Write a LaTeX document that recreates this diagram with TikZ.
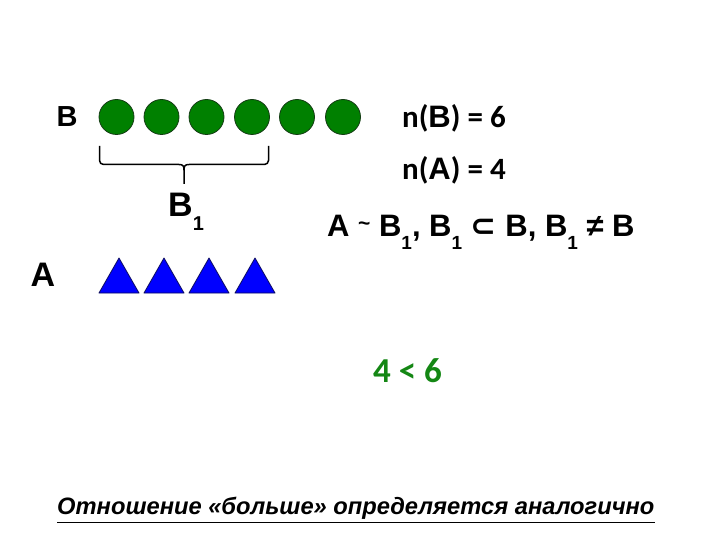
\documentclass[tikz,border=0pt]{standalone}
\usepackage{fontspec}
\setmainfont{Liberation Sans}
\newfontfamily\carfont{Carlito}
\newfontfamily\djvfont{DejaVu Sans}
\definecolor{dotgreen}{RGB}{0,128,0}
\definecolor{dotedge}{RGB}{20,60,20}
\definecolor{triblue}{RGB}{0,0,255}
\definecolor{triedge}{RGB}{10,10,90}
\definecolor{numgreen}{RGB}{20,135,20}
\newcommand{\lowone}[1]{\raisebox{-0.8ex}{\fontsize{#1}{#1}\selectfont 1}}
\begin{document}
\begin{tikzpicture}[x=1pt,y=-1pt,
  dot/.style={circle,draw=dotedge,fill=dotgreen,line width=0.8pt,minimum size=35pt,inner sep=0pt},
  tri/.style={draw=triedge,fill=triblue,line width=0.8pt,line join=round},
  lbl/.style={font=\bfseries\fontsize{29}{32}\selectfont,inner sep=0pt},
  biglbl/.style={font=\bfseries\fontsize{34}{38}\selectfont,inner sep=0pt},
  eq/.style={font=\bfseries\fontsize{31}{35}\selectfont,inner sep=0pt,anchor=west}]
\useasboundingbox (0,0) rectangle (720,540);
% set B
\node[lbl] (lB) at (67,117) {B};
\foreach \i/\x in {1/116.5,2/161.5,3/206.5,4/252,5/297,6/343}
  \node[dot] (c\i) at (\x,117) {};
% brace
\draw[line width=1.5pt,rounded corners=4pt] (99.5,146) -- (99.5,164.5) -- (179,164.5);
\draw[line width=1.5pt,rounded corners=4pt] (268.5,146) -- (268.5,164.5) -- (189,164.5);
\draw[line width=1.5pt] (179,164.5) .. controls (183,164.5) and (184,166) .. (184,170) -- (184,184);
\draw[line width=1.5pt] (189,164.5) .. controls (185,164.5) and (184,166) .. (184,170);
\node[biglbl,anchor=west] (lB1) at (168,212) {B\lowone{20}};
% set A
\node[biglbl] (lA) at (43,275) {A};
\foreach \i/\x in {1/119,2/164,3/209,4/255}
  \draw[tri] (\x-20,293) -- (\x,258) -- (\x+20,293) -- cycle;
% right texts
\node[eq] (nB) at (402,118) {{\carfont n(}B{\carfont ) = 6}};
\node[eq] (nA) at (402,170) {{\carfont n(}A{\carfont ) = 4}};
\node[font=\bfseries\fontsize{31}{35}\selectfont,inner sep=0pt,anchor=west] (rel) at (327,232)
  {A \raisebox{0.35ex}{\fontsize{21}{21}\selectfont\textasciitilde} B\lowone{19}, B\lowone{19}\ {\djvfont\bfseries ⊂} B, B\lowone{19}\ ≠ B};
\node[font=\carfont\bfseries\fontsize{35}{40}\selectfont,text=numgreen,inner sep=0pt] (cmp) at (407.5,371) {4 < 6};
\node[font=\bfseries\itshape\fontsize{23.7}{28}\selectfont,inner sep=0pt,anchor=west] (foot) at (57,508)
  {Отношение «больше» определяется аналогично};
\draw[line width=1.6pt] ([yshift=-3pt]foot.south west) -- ([yshift=-3pt]foot.south east);
\end{tikzpicture}
\end{document}
